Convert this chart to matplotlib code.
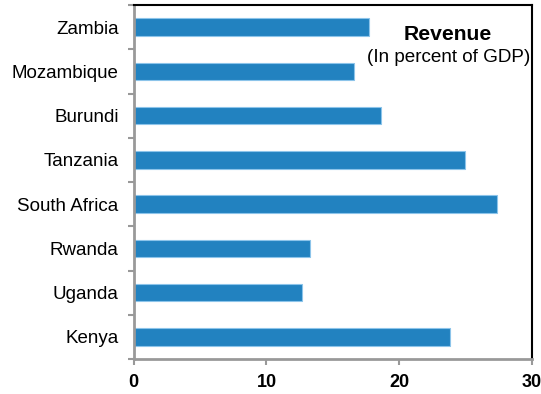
import matplotlib
matplotlib.use("Agg")
import matplotlib.pyplot as plt
import numpy as np

countries = ["Kenya", "Uganda", "Rwanda", "South Africa", "Tanzania",
             "Burundi", "Mozambique", "Zambia"]
revenue = [23.8, 12.7, 13.3, 27.4, 25.0, 18.6, 16.6, 17.7]
xticks = [0, 10, 20, 30]

plt.rcParams["font.family"] = ["Liberation Sans", "DejaVu Sans"]

fig = plt.figure(figsize=(5.41, 3.94), dpi=100)
ax = fig.add_axes([0.2473, 0.0888, 0.7357, 0.8985])

y = np.arange(len(countries))
ax.barh(y, revenue, height=0.4, color="#2282C0", edgecolor="#8CC4EA",
        linewidth=0.8, zorder=2)

ax.set_xlim(0, 30)
ax.set_ylim(-0.5, len(countries) - 0.5)

ax.set_xticks(xticks)
ax.set_xticklabels([str(v) for v in xticks], fontweight="bold", fontsize=13)
ax.set_yticks(y)
ax.set_yticklabels(countries, fontsize=13.5)
ax.set_yticks(np.arange(-0.5, len(countries), 1.0), minor=True)

ax.tick_params(axis="y", which="major", length=0, pad=11)
ax.tick_params(axis="y", which="minor", length=4, width=1.5, color="#999999",
               direction="out")
ax.tick_params(axis="x", which="major", length=4, width=1.5, color="#999999",
               direction="out", pad=7)

for side in ("left", "bottom"):
    ax.spines[side].set_color("#999999")
    ax.spines[side].set_linewidth(2)
for side in ("top", "right"):
    ax.spines[side].set_color("black")
    ax.spines[side].set_linewidth(1.5)

ax.text(0.79, 0.917, "Revenue", transform=ax.transAxes, ha="center",
        va="center", fontsize=15.2, fontweight="bold")
ax.text(0.79, 0.853, "(In percent of GDP)", transform=ax.transAxes,
        ha="center", va="center", fontsize=13.6)

fig.savefig("out.png", dpi=100)
